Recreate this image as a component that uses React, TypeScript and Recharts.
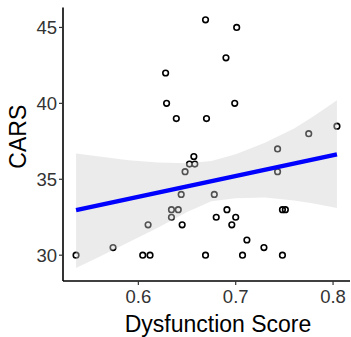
import React from 'react';
import { ComposedChart, Scatter, Area, Line, XAxis, YAxis, Label } from 'recharts';

// observed points (Dysfunction Score, CARS)
const scoreX = [
  0.536, 0.574, 0.6045, 0.612, 0.61, 0.628, 0.629, 0.639, 0.634, 0.641,
  0.634, 0.645, 0.644, 0.648, 0.6525, 0.658, 0.657, 0.669, 0.67, 0.669,
  0.678, 0.68, 0.69, 0.691, 0.696, 0.699, 0.7, 0.701, 0.707, 0.7115,
  0.729, 0.743, 0.743, 0.748, 0.751, 0.748, 0.775, 0.804,
];
const carsY = [
  30, 30.5, 30, 30, 32, 42, 40, 39, 33, 33,
  32.5, 32, 34, 35.5, 36, 36, 36.5, 45.5, 39, 30,
  34, 32.5, 43, 33, 32, 40, 32.5, 45, 30, 31,
  30.5, 37, 35.5, 33, 33, 30, 38, 38.5,
];

// fitted line ends
const fitX = [0.536, 0.804];
const fitY = [32.97, 36.64];

// confidence band
const bandX = [0.536, 0.56, 0.59, 0.62, 0.65, 0.675, 0.7, 0.73, 0.76, 0.78, 0.804];
const bandLow = [29.15, 29.9, 30.85, 31.8, 32.85, 33.55, 33.75, 33.8, 33.6, 33.4, 33.1];
const bandHigh = [36.7, 36.5, 36.25, 36.1, 36.05, 36.2, 36.65, 37.4, 38.35, 39.15, 40.2];

const xTicks = [0.6, 0.7, 0.8];
const yTicks = [30, 35, 40, 45];

const points = scoreX.map((x, i) => ({ x, y: carsY[i] }));
const fit = fitX.map((x, i) => ({ x, fit: fitY[i] }));
const band = bandX.map((x, i) => ({ x, band: [bandLow[i], bandHigh[i]] }));

const font = '"Liberation Sans", Arial, sans-serif';

const OpenCircle = (props: any) => (
  <circle cx={props.cx} cy={props.cy} r={2.8} fill="none" stroke="#000" strokeWidth={1.6} />
);

export default function App() {
  return (
    <div style={{ position: 'fixed', left: 0, top: 0, width: 351, height: 337, overflow: 'hidden', background: '#fff' }}>
      <ComposedChart
        width={351}
        height={337}
        margin={{ top: 7.4, right: 1, bottom: 0, left: 0 }}
        style={{ fontFamily: font }}
      >
        <XAxis
          type="number"
          dataKey="x"
          domain={[0.5226, 0.8174]}
          allowDataOverflow
          ticks={xTicks}
          tickFormatter={(v: number) => v.toFixed(1)}
          height={56}
          tickSize={4}
          tickMargin={5}
          axisLine={{ stroke: '#000', strokeWidth: 1.6 }}
          tickLine={{ stroke: '#333', strokeWidth: 1.2 }}
          tick={{ fill: '#333', fontSize: 18.5, fontFamily: font }}
        >
          <Label
            content={() => (
              <text x={218} y={331.5} textAnchor="middle" fontSize={23} fontFamily={font} fill="#000">
                Dysfunction Score
              </text>
            )}
          />
        </XAxis>
        <YAxis
          type="number"
          domain={[28.3, 46.32]}
          allowDataOverflow
          ticks={yTicks}
          width={63}
          tickSize={4}
          tickMargin={2}
          axisLine={{ stroke: '#000', strokeWidth: 1.6 }}
          tickLine={{ stroke: '#333', strokeWidth: 1.2 }}
          tick={{ fill: '#333', fontSize: 18.5, fontFamily: font }}
        >
          <Label
            content={() => (
              <text
                x={26.5}
                y={136.7}
                transform="rotate(-90, 26.5, 136.7)"
                textAnchor="middle"
                fontSize={23}
                fontFamily={font}
                fill="#000"
              >
                CARS
              </text>
            )}
          />
        </YAxis>
        <Scatter data={points} dataKey="y" shape={OpenCircle} isAnimationActive={false} zIndex={100} />
        <Area
          data={band}
          dataKey="band"
          type="linear"
          stroke="none"
          fill="#CECECE"
          fillOpacity={0.4}
          isAnimationActive={false}
          dot={false}
          activeDot={false}
          zIndex={200}
        />
        <Line
          data={fit}
          dataKey="fit"
          type="linear"
          stroke="#0000FF"
          strokeWidth={4.5}
          dot={false}
          activeDot={false}
          isAnimationActive={false}
          zIndex={300}
        />
      </ComposedChart>
    </div>
  );
}
